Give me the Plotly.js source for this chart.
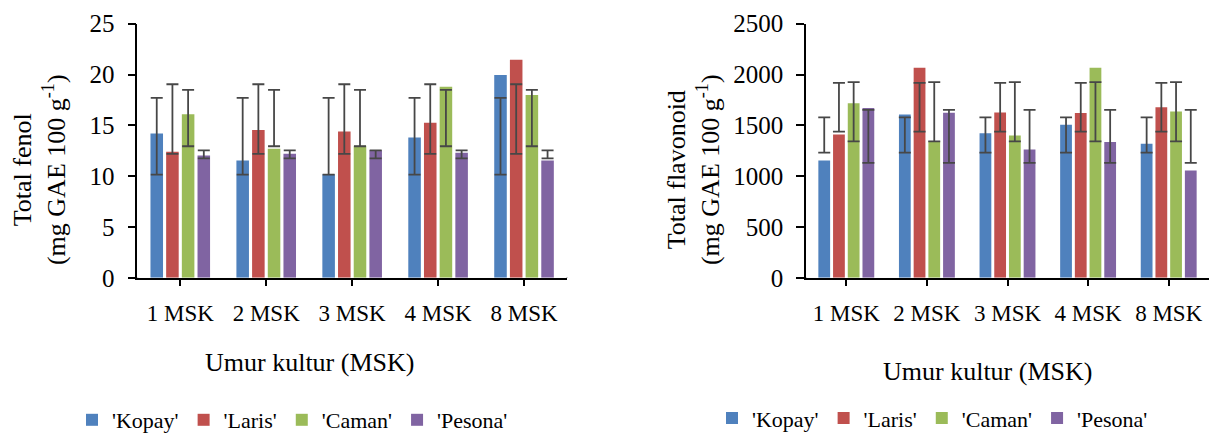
<!DOCTYPE html>
<html>
<head>
<meta charset="utf-8">
<script src="https://cdn.plot.ly/plotly-3.0.1.min.js"></script>
<style>
  html, body { margin: 0; padding: 0; background: #fff; }
  #chart { width: 1209px; height: 441px; }
</style>
</head>
<body>
<div id="chart"></div>
<script>
// ---- data ----
const categories = ['1 MSK', '2 MSK', '3 MSK', '4 MSK', '8 MSK'];
const varieties = ["'Kopay'", "'Laris'", "'Caman'", "'Pesona'"];

// Total fenol (mg GAE 100 g-1)
const fenolKopay  = [14.2, 11.55, 10.2, 13.8, 19.95];
const fenolLaris  = [12.4, 14.55, 14.4, 15.25, 21.45];
const fenolCaman  = [16.1, 12.7, 13.0, 18.8, 18.0];
const fenolPesona = [12.05, 12.2, 12.55, 12.3, 11.55];
// error bar ends (low / high) as drawn
const fenolKopayLow  = [10.15, 10.15, 10.15, 10.15, 10.15];
const fenolKopayHigh = [17.7, 17.7, 17.7, 17.7, 17.7];
const fenolLarisLow  = [12.2, 12.2, 12.2, 12.2, 12.2];
const fenolLarisHigh = [19.05, 19.05, 19.05, 19.05, 19.05];
const fenolCamanLow  = [12.95, 12.95, 12.95, 12.95, 12.95];
const fenolCamanHigh = [18.5, 18.5, 18.5, 18.5, 18.5];
const fenolPesonaLow  = [11.75, 11.75, 11.75, 11.75, 11.75];
const fenolPesonaHigh = [12.55, 12.55, 12.55, 12.55, 12.55];

// Total flavonoid (mg GAE 100 g-1)
const flavKopay  = [1155, 1608, 1423, 1506, 1320];
const flavLaris  = [1410, 2068, 1627, 1621, 1678];
const flavCaman  = [1717, 1343, 1400, 2068, 1637];
const flavPesona = [1672, 1624, 1263, 1336, 1055];
const flavKopayLow  = [1232, 1232, 1232, 1232, 1232];
const flavKopayHigh = [1579, 1579, 1579, 1579, 1579];
const flavLarisLow  = [1439, 1439, 1439, 1439, 1439];
const flavLarisHigh = [1918, 1918, 1918, 1918, 1918];
const flavCamanLow  = [1343, 1343, 1343, 1343, 1343];
const flavCamanHigh = [1925, 1925, 1925, 1925, 1925];
const flavPesonaLow  = [1132, 1132, 1132, 1132, 1132];
const flavPesonaHigh = [1653, 1653, 1653, 1653, 1653];

const yTicksFenol = [0, 5, 10, 15, 20, 25];
const yTicksFlav = [0, 500, 1000, 1500, 2000, 2500];

// ---- styling ----
const colors = ['#4F81BD', '#C0504D', '#9BBB59', '#8064A2'];
const FONT = 'Liberation Serif, Times New Roman, serif';

const fenolSeries = [
  [fenolKopay, fenolKopayLow, fenolKopayHigh],
  [fenolLaris, fenolLarisLow, fenolLarisHigh],
  [fenolCaman, fenolCamanLow, fenolCamanHigh],
  [fenolPesona, fenolPesonaLow, fenolPesonaHigh]
];
const flavSeries = [
  [flavKopay, flavKopayLow, flavKopayHigh],
  [flavLaris, flavLarisLow, flavLarisHigh],
  [flavCaman, flavCamanLow, flavCamanHigh],
  [flavPesona, flavPesonaLow, flavPesonaHigh]
];

function makeTrace(series, i, xa, ya, legendName) {
  const [vals, lo, hi] = series;
  return {
    type: 'bar',
    name: varieties[i],
    x: categories,
    y: vals,
    xaxis: xa,
    yaxis: ya,
    legend: legendName,
    marker: { color: colors[i], line: { width: 0 } },
    error_y: {
      type: 'data',
      symmetric: false,
      array: vals.map((v, k) => hi[k] - v),
      arrayminus: vals.map((v, k) => v - lo[k]),
      color: '#474747',
      thickness: 1.8,
      width: 6
    },
    hoverinfo: 'x+y+name'
  };
}

const traces = [];
fenolSeries.forEach((s, i) => traces.push(makeTrace(s, i, 'x', 'y', 'legend')));
flavSeries.forEach((s, i) => traces.push(makeTrace(s, i, 'x2', 'y2', 'legend2')));

const W = 1209, H = 441;
const px = v => v / W;
const py = v => (H - v) / H;

const xBase = {
  type: 'category',
  showline: true, linecolor: '#000', linewidth: 2,
  ticks: 'outside', ticklen: 6, tickwidth: 2, tickcolor: '#000',
  showgrid: false, zeroline: false,
  tickfont: { family: FONT, size: 23, color: '#000' },
  ticklabelstandoff: 8,
  fixedrange: true
};
const yBase = {
  showline: true, linecolor: '#000', linewidth: 1.5,
  ticks: 'outside', ticklen: 8, tickwidth: 1.5, tickcolor: '#000',
  showgrid: false, zeroline: false,
  tickfont: { family: FONT, size: 25, color: '#000' },
  ticklabelstandoff: 8,
  fixedrange: true
};

const legendBase = {
  orientation: 'h',
  font: { family: FONT, size: 22, color: '#000' },
  bgcolor: 'rgba(0,0,0,0)',
  xanchor: 'left', yanchor: 'middle',
  itemclick: false, itemdoubleclick: false,
  tracegroupgap: 0
};

const endTick = (xref, yref, xv) => ({
  type: 'line', xref: xref, yref: yref, x0: xv, x1: xv,
  ysizemode: 'pixel', yanchor: 0, y0: 0, y1: -6,
  line: { color: '#000', width: 2 }
});

const layout = {
  width: W, height: H,
  margin: { l: 0, r: 0, t: 0, b: 0 },
  paper_bgcolor: '#fff', plot_bgcolor: '#fff',
  font: { family: FONT, color: '#000' },
  barmode: 'group',
  bargap: 0.27,
  bargroupgap: 0.2,
  showlegend: true,
  xaxis: Object.assign({}, xBase, { domain: [px(137.3), px(567)], anchor: 'y' }),
  yaxis: Object.assign({}, yBase, { domain: [py(284.3), py(24.3)], anchor: 'x',
    range: [0, 25], tickvals: yTicksFenol, ticktext: yTicksFenol.map(String) }),
  xaxis2: Object.assign({}, xBase, { domain: [px(806), 1], anchor: 'y2' }),
  yaxis2: Object.assign({}, yBase, { domain: [py(284.3), py(24.3)], anchor: 'x2',
    range: [0, 2500], tickvals: yTicksFlav, ticktext: yTicksFlav.map(String) }),
  legend: Object.assign({}, legendBase, { x: px(72), y: py(430) }),
  legend2: Object.assign({}, legendBase, { x: px(712), y: py(428) }),
  annotations: [
    { text: 'Total fenol<br>(mg GAE 100 g<sup>-1</sup>)', textangle: -90,
      xref: 'paper', yref: 'paper', x: px(39), y: py(174),
      xanchor: 'center', yanchor: 'middle', showarrow: false,
      font: { family: FONT, size: 26, color: '#000' } },
    { text: 'Total flavonoid<br>(mg GAE 100 g<sup>-1</sup>)', textangle: -90,
      xref: 'paper', yref: 'paper', x: px(693), y: py(174),
      xanchor: 'center', yanchor: 'middle', showarrow: false,
      font: { family: FONT, size: 26, color: '#000' } },
    { text: 'Umur kultur (MSK)', xref: 'paper', yref: 'paper',
      x: px(309), y: py(371), xanchor: 'center', yanchor: 'middle', showarrow: false,
      font: { family: FONT, size: 26, color: '#000' } },
    { text: 'Umur kultur (MSK)', xref: 'paper', yref: 'paper',
      x: px(987), y: py(380), xanchor: 'center', yanchor: 'middle', showarrow: false,
      font: { family: FONT, size: 26, color: '#000' } }
  ],
  shapes: [
    endTick('x domain', 'y', 0), endTick('x domain', 'y', 1),
    endTick('x2 domain', 'y2', 0)
  ]
};

Plotly.newPlot('chart', traces, layout, { displayModeBar: false, staticPlot: false, responsive: false });
</script>
</body>
</html>
